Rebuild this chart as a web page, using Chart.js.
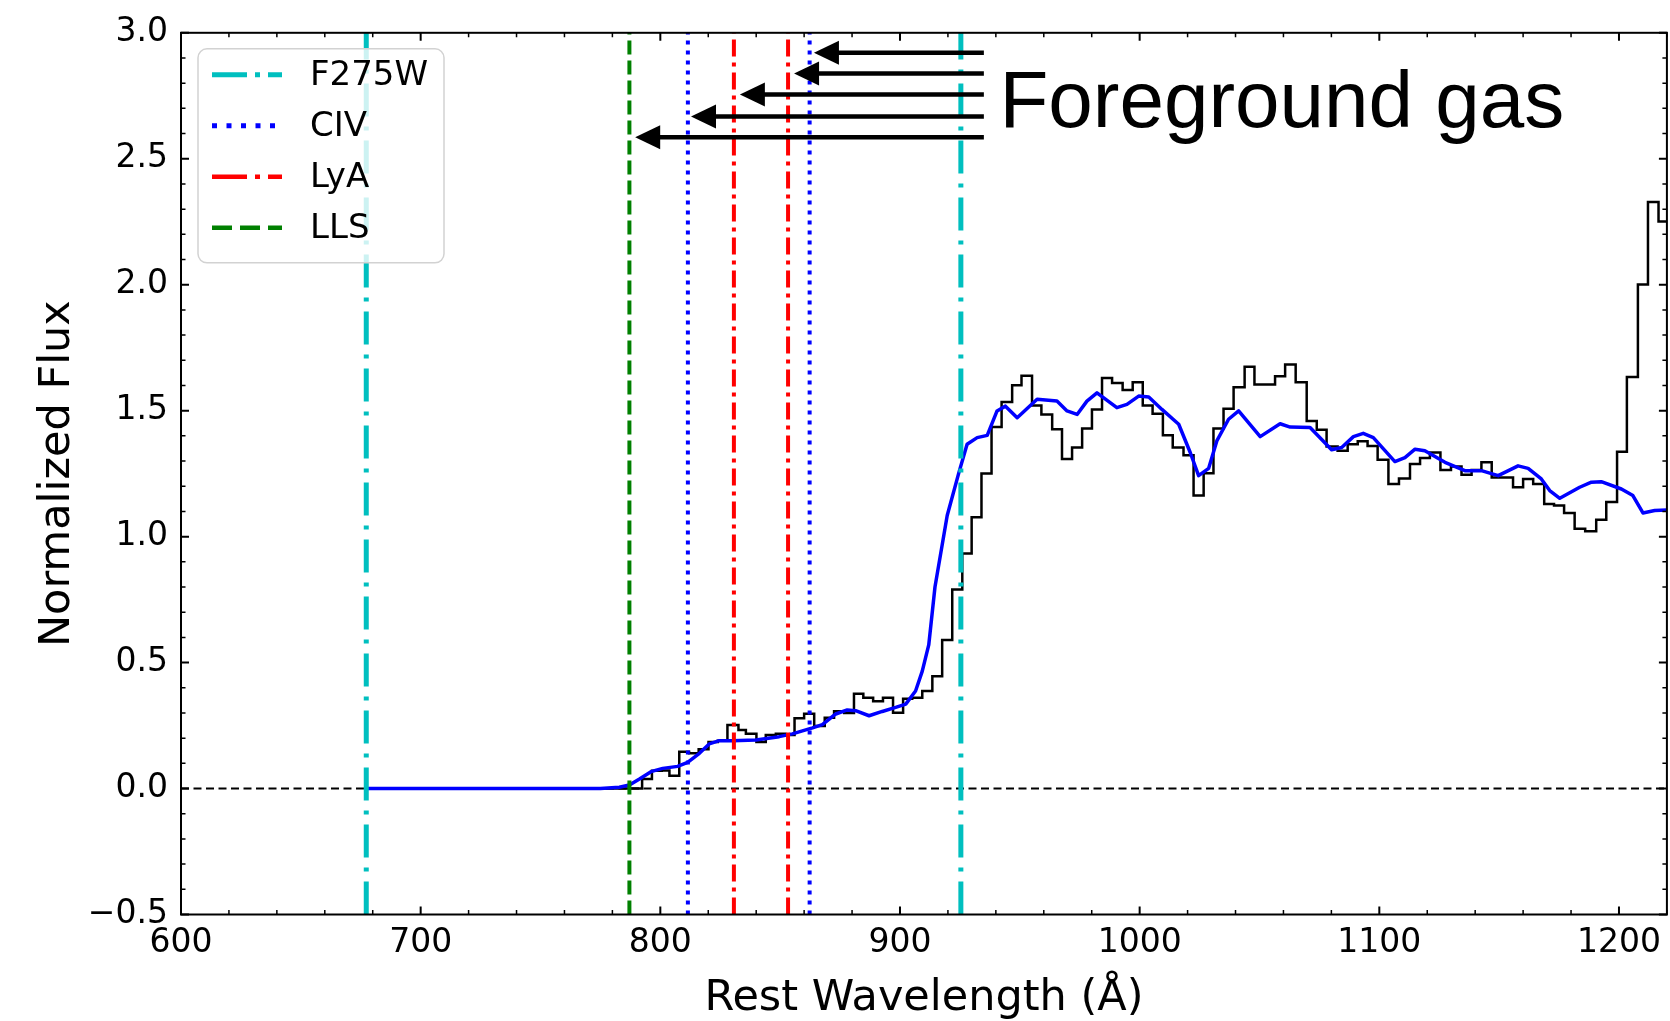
<!DOCTYPE html>
<html><head><meta charset="utf-8">
<script src="https://cdn.jsdelivr.net/npm/chart.js@4.4.1/dist/chart.umd.min.js"></script>
<style>html,body{margin:0;padding:0;background:#fff}canvas{display:block}</style>
</head><body>
<canvas id="c" width="1670" height="1021"></canvas>
<script>
// ---------- DATA ----------
// Observed spectrum (step histogram): left bin edges (Angstrom) and flux
const histWave = [677.3, 792.4, 796.5, 800.6, 803.8, 807.9, 812.0, 816.0, 820.1, 824.0, 828.0, 832.6, 835.7, 840.1, 844.0, 848.2, 852.1, 856.0, 860.0, 864.2, 868.6, 872.5, 876.7, 880.8, 884.7, 888.8, 892.9, 897.1, 901.3, 905.1, 909.3, 913.5, 917.6, 921.8, 926.0, 929.9, 934.0, 938.2, 942.4, 946.8, 950.7, 955.1, 959.0, 963.5, 967.6, 971.8, 976.0, 980.1, 984.3, 988.5, 992.9, 997.1, 1001.3, 1005.4, 1009.7, 1013.8, 1018.3, 1022.5, 1026.7, 1030.8, 1035.0, 1039.2, 1043.8, 1047.9, 1056.5, 1060.7, 1065.1, 1069.7, 1073.9, 1078.0, 1082.6, 1086.8, 1091.0, 1095.1, 1099.3, 1103.8, 1108.2, 1112.8, 1117.0, 1121.1, 1125.5, 1129.9, 1134.3, 1138.5, 1142.6, 1146.9, 1155.8, 1160.0, 1164.2, 1168.8, 1172.9, 1177.1, 1181.5, 1185.9, 1190.5, 1194.7, 1199.2, 1203.3, 1207.9, 1212.1, 1216.5, 1220.0];
const histFlux = [0.0, 0.038, 0.071, 0.072, 0.051, 0.146, 0.140, 0.156, 0.185, 0.190, 0.252, 0.232, 0.218, 0.185, 0.213, 0.218, 0.213, 0.279, 0.297, 0.248, 0.281, 0.307, 0.300, 0.376, 0.360, 0.347, 0.360, 0.301, 0.356, 0.360, 0.387, 0.446, 0.590, 0.790, 0.933, 1.077, 1.251, 1.435, 1.534, 1.601, 1.639, 1.521, 1.485, 1.426, 1.308, 1.354, 1.429, 1.505, 1.630, 1.610, 1.582, 1.613, 1.521, 1.488, 1.402, 1.354, 1.323, 1.163, 1.252, 1.429, 1.508, 1.593, 1.674, 1.604, 1.637, 1.683, 1.613, 1.459, 1.424, 1.358, 1.341, 1.367, 1.379, 1.360, 1.305, 1.209, 1.231, 1.288, 1.312, 1.334, 1.264, 1.278, 1.246, 1.264, 1.295, 1.235, 1.196, 1.229, 1.209, 1.130, 1.124, 1.094, 1.031, 1.021, 1.067, 1.137, 1.337, 1.634, 2.001, 2.328, 2.251, 2.251];
// Model spectrum (blue)
const modelWave = [677.3, 775.0, 782.9, 787.1, 791.3, 796.1, 801.0, 807.2, 811.4, 816.3, 820.4, 824.6, 830.1, 839.9, 849.6, 855.1, 863.5, 867.6, 873.2, 878.0, 881.5, 887.1, 892.6, 898.2, 902.4, 906.5, 909.3, 912.0, 914.6, 919.7, 924.6, 928.0, 932.2, 936.4, 940.5, 944.0, 948.9, 957.2, 965.5, 969.7, 973.9, 978.0, 982.2, 990.5, 994.7, 999.6, 1003.8, 1009.3, 1016.3, 1021.1, 1024.6, 1028.8, 1032.2, 1037.1, 1041.3, 1050.3, 1058.6, 1062.8, 1071.1, 1080.1, 1084.3, 1089.2, 1093.3, 1097.5, 1106.5, 1110.7, 1114.9, 1119.0, 1127.4, 1135.7, 1142.6, 1149.6, 1157.9, 1162.1, 1167.6, 1171.1, 1175.3, 1183.6, 1188.5, 1192.6, 1201.0, 1205.8, 1210.0, 1214.9, 1220.0];
const modelFlux = [0.0, 0.0, 0.005, 0.014, 0.038, 0.067, 0.080, 0.088, 0.104, 0.140, 0.177, 0.190, 0.190, 0.193, 0.206, 0.217, 0.241, 0.254, 0.296, 0.312, 0.309, 0.289, 0.306, 0.322, 0.335, 0.387, 0.466, 0.570, 0.800, 1.084, 1.255, 1.367, 1.393, 1.402, 1.499, 1.518, 1.472, 1.545, 1.538, 1.499, 1.485, 1.538, 1.571, 1.512, 1.525, 1.558, 1.554, 1.505, 1.446, 1.334, 1.242, 1.271, 1.380, 1.466, 1.499, 1.397, 1.448, 1.435, 1.433, 1.345, 1.354, 1.397, 1.410, 1.393, 1.298, 1.314, 1.347, 1.341, 1.295, 1.262, 1.262, 1.242, 1.281, 1.271, 1.229, 1.183, 1.152, 1.196, 1.216, 1.218, 1.189, 1.163, 1.094, 1.104, 1.106];
// Vertical marker lines (Angstrom)
const f275wLines = [677.3, 925.4];
const civLines = [811.5, 862.3];
const lyaLines = [830.7, 853.3];
const llsLines = [787.1];
// Foreground-gas arrows
const arrowY = [2.921, 2.838, 2.755, 2.668, 2.585];
const arrowTip = [864.1, 855.8, 833.2, 812.8, 789.5];
const arrowTail = 935;
const annotText = 'Foreground gas';
const annotPos = [941.5, 2.628];
// Axes
const xRange = [600, 1220];
const yRange = [-0.5, 3.0];
const xTickStep = 100, xMinorStep = 20;
const yTickStep = 0.5, yMinorStep = 0.1;
const legendLabels = ['F275W', 'CIV', 'LyA', 'LLS'];

// ---------- STYLES ----------
const C_CYAN = '#00BFBF', C_BLUE = '#0000FF', C_RED = '#FF0000', C_GREEN = '#008000';
const styles = {
  F275W: {color: C_CYAN, width: 5, dash: [33, 10, 4, 10], ldash: [35, 8, 5, 8], lwidth: 5},
  CIV:   {color: C_BLUE, width: 4, dash: [4, 6], ldash: [5, 9.5], lwidth: 5},
  LyA:   {color: C_RED, width: 4, dash: [17, 6, 4, 6], ldash: [35, 8, 5, 8], lwidth: 4.5},
  LLS:   {color: C_GREEN, width: 4, dash: [14, 6], ldash: [20, 8], lwidth: 4.5}
};
const FONT = '"DejaVu Sans"';

function vlineSets(list, key) {
  const s = styles[key];
  return list.map(w => ({
    data: [{x: w, y: yRange[0]}, {x: w, y: yRange[1]}],
    borderColor: s.color, borderWidth: s.width, borderDash: s.dash,
    borderCapStyle: 'butt', pointRadius: 0, order: 0, fill: false
  }));
}

const datasets = [
  ...vlineSets(f275wLines, 'F275W'),
  ...vlineSets(civLines, 'CIV'),
  ...vlineSets(lyaLines, 'LyA'),
  ...vlineSets(llsLines, 'LLS'),
  {data: modelWave.map((w, i) => ({x: w, y: modelFlux[i]})), borderColor: C_BLUE, borderWidth: 3.5,
   pointRadius: 0, tension: 0, order: 1, borderJoinStyle: 'round'},
  {data: histWave.map((w, i) => ({x: w, y: histFlux[i]})), borderColor: '#000', borderWidth: 2.5,
   pointRadius: 0, stepped: true, order: 2, borderJoinStyle: 'miter'},
  {data: [{x: xRange[0], y: 0}, {x: xRange[1], y: 0}], borderColor: '#000', borderWidth: 2,
   borderDash: [8, 4.5], pointRadius: 0, order: 3}
];

const decor = {
  id: 'decor',
  afterDraw(chart) {
    const {ctx, chartArea: a, scales: {x: xs, y: ys}} = chart;
    ctx.save();
    // ticks (inward, all four sides)
    ctx.strokeStyle = '#000';
    const tick = (len, w, xv, yv) => {
      ctx.lineWidth = w;
      ctx.beginPath();
      xv.forEach(v => { const p = xs.getPixelForValue(v);
        ctx.moveTo(p, a.bottom); ctx.lineTo(p, a.bottom - len);
        ctx.moveTo(p, a.top); ctx.lineTo(p, a.top + len); });
      yv.forEach(v => { const p = ys.getPixelForValue(v);
        ctx.moveTo(a.left, p); ctx.lineTo(a.left + len, p);
        ctx.moveTo(a.right, p); ctx.lineTo(a.right - len, p); });
      ctx.stroke();
    };
    const xMinor = [], yMinor = [];
    for (let v = xRange[0]; v <= xRange[1] + 1e-6; v += xMinorStep) if (Math.abs(v / xTickStep - Math.round(v / xTickStep)) > 1e-6) xMinor.push(v);
    for (let k = Math.round(yRange[0] / yMinorStep); k <= Math.round(yRange[1] / yMinorStep); k++) if (k % 5 !== 0) yMinor.push(k * yMinorStep);
    tick(4.5, 1.5, xMinor, yMinor);
    tick(8, 2, xs.ticks.map(t => t.value), ys.ticks.map(t => t.value));
    // frame
    ctx.lineWidth = 2;
    ctx.strokeRect(a.left, a.top, a.right - a.left, a.bottom - a.top);

    // arrows
    ctx.fillStyle = '#000';
    ctx.strokeStyle = '#000';
    const x1 = xs.getPixelForValue(arrowTail);
    arrowY.forEach((yv, i) => {
      const y = ys.getPixelForValue(yv), x0 = xs.getPixelForValue(arrowTip[i]);
      ctx.lineWidth = 4.5;
      ctx.beginPath(); ctx.moveTo(x1, y); ctx.lineTo(x0 + 20, y); ctx.stroke();
      ctx.beginPath(); ctx.moveTo(x0, y); ctx.lineTo(x0 + 25, y - 12); ctx.lineTo(x0 + 25, y + 12); ctx.closePath(); ctx.fill();
    });
    // annotation text
    ctx.font = '80px "Liberation Sans"';
    ctx.textBaseline = 'alphabetic'; ctx.textAlign = 'left';
    ctx.fillText(annotText, xs.getPixelForValue(annotPos[0]), ys.getPixelForValue(annotPos[1]));

    // legend
    const bx = a.left + 17, by = a.top + 16, bw = 246, bh = 214, r = 9;
    ctx.beginPath();
    ctx.roundRect(bx, by, bw, bh, r);
    ctx.fillStyle = 'rgba(255,255,255,0.8)';
    ctx.fill();
    ctx.lineWidth = 1.5; ctx.strokeStyle = 'rgb(210,210,210)';
    ctx.stroke();
    ctx.font = '34px ' + FONT;
    ctx.textBaseline = 'middle';
    legendLabels.forEach((lab, i) => {
      const s = styles[lab];
      const yy = by + 26 + i * 51;
      ctx.strokeStyle = s.color; ctx.lineWidth = s.lwidth; ctx.setLineDash(s.ldash); ctx.lineCap = 'butt';
      ctx.beginPath(); ctx.moveTo(bx + 14, yy); ctx.lineTo(bx + 84, yy); ctx.stroke();
      ctx.setLineDash([]);
      ctx.fillStyle = '#000';
      ctx.fillText(lab, bx + 112, yy + 1);
    });
    ctx.restore();
  }
};

const fmt = v => (Math.round(v * 10) / 10).toFixed(1).replace('-', '\u2212');

new Chart(document.getElementById('c'), {
  type: 'line',
  data: {datasets},
  options: {
    responsive: false, animation: false, devicePixelRatio: 1,
    layout: {padding: {top: 28, right: 1, left: 0, bottom: 0}},
    plugins: {legend: {display: false}, tooltip: {enabled: false}},
    scales: {
      x: {
        type: 'linear', min: xRange[0], max: xRange[1],
        grid: {display: false, drawTicks: false}, border: {display: false},
        ticks: {stepSize: xTickStep, includeBounds: false, color: '#000', padding: 9,
                font: {family: FONT, size: 33}, maxRotation: 0, autoSkip: false,
                callback: v => String(v)},
        title: {display: true, text: 'Rest Wavelength (\u00C5)', color: '#000',
                font: {family: FONT, size: 43}, padding: {top: 0, bottom: -3.5}},
        afterFit: s => { s.height = 106.5; }
      },
      y: {
        type: 'linear', min: yRange[0], max: yRange[1],
        grid: {display: false, drawTicks: false}, border: {display: false},
        ticks: {stepSize: yTickStep, includeBounds: false, color: '#000', padding: 13,
                font: {family: FONT, size: 33}, autoSkip: false, callback: v => fmt(v)},
        title: {display: true, text: 'Normalized Flux', color: '#000',
                font: {family: FONT, size: 43}, padding: {top: 32, bottom: 0}},
        afterFit: s => { s.width = 181; }
      }
    }
  },
  plugins: [decor]
});
</script>
</body></html>
